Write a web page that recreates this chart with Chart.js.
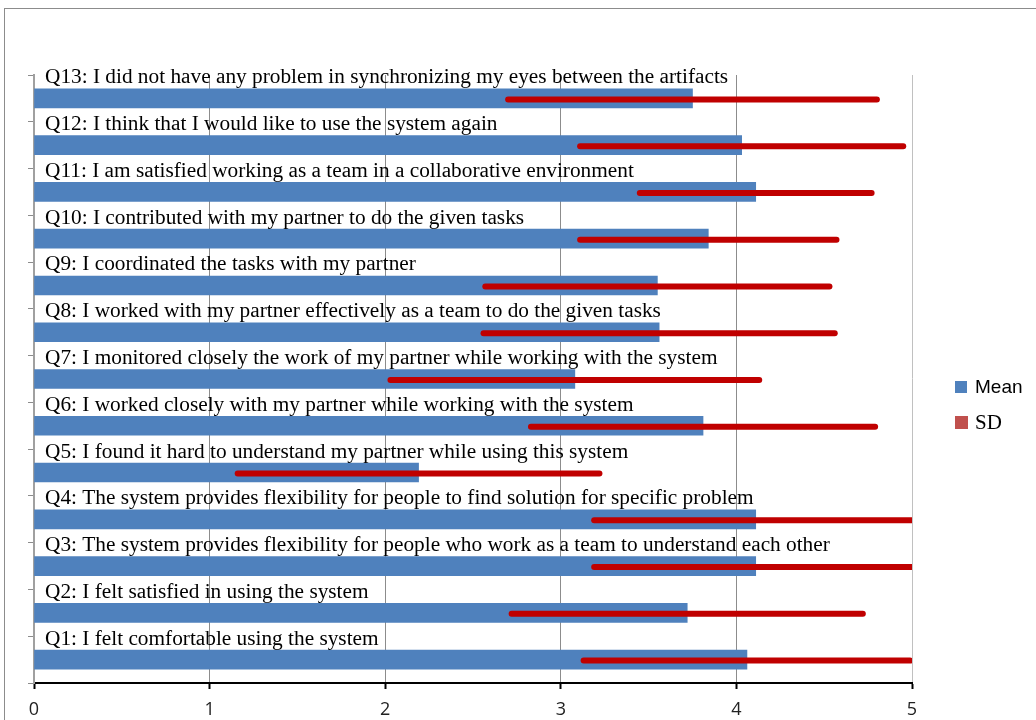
<!DOCTYPE html>
<html>
<head>
<meta charset="utf-8">
<script src="https://cdn.jsdelivr.net/npm/chart.js@4/dist/chart.umd.min.js"></script>
<style>
  html, body { margin: 0; padding: 0; background: #fff; overflow: hidden; }
  #wrap { position: relative; width: 1036px; height: 720px; }
  #frame { position: absolute; left: 4px; top: 8px; width: 1100px; height: 800px; border: 1px solid #8c8c8c; }
  canvas { position: absolute; left: 0; top: 0; }
</style>
</head>
<body>
<div id="wrap">
  <div id="frame"></div>
  <canvas id="chart" width="1036" height="720"></canvas>
</div>
<script>
// Preguntas (de arriba hacia abajo)
const questions = [
    'Q13: I did not have any problem in synchronizing my eyes between the artifacts',
    'Q12: I think that I would like to use the system again',
    'Q11: I am satisfied working as a team in a collaborative environment',
    'Q10: I contributed with my partner to do the given tasks',
    'Q9: I coordinated the tasks with my partner',
    'Q8: I worked with my partner effectively as a team to do the given tasks',
    'Q7: I monitored closely the work of my partner while working with the system',
    'Q6: I worked closely with my partner while working with the system',
    'Q5: I found it hard to understand my partner while using this system',
    'Q4: The system provides flexibility for people to find solution for specific problem',
    'Q3: The system provides flexibility for people who work as a team to understand each other',
    'Q2: I felt satisfied in using the system',
    'Q1: I felt comfortable using the system'
];
const meanValues = [3.75, 4.03, 4.11, 3.84, 3.55, 3.56, 3.08, 3.81, 2.19, 4.11, 4.11, 3.72, 4.06];
const sdValues   = [1.05, 0.92, 0.66, 0.73, 0.98, 1.00, 1.05, 0.98, 1.03, 0.92, 0.92, 1.00, 0.93];
const xTicks = [0, 1, 2, 3, 4, 5];

const blue = '#4F81BD';
const red = '#C00000';

// Barras de error (media ± SD) y etiquetas de texto sobre cada barra
const overlayPlugin = {
    id: 'overlay',
    afterDatasetsDraw(chart) {
        const ctx = chart.ctx;
        const xs = chart.scales.x;
        const area = chart.chartArea;
        const meta = chart.getDatasetMeta(0);
        ctx.save();
        ctx.beginPath();
        ctx.rect(area.left, area.top - 10, area.right - area.left, area.bottom - area.top + 10);
        ctx.clip();
        ctx.strokeStyle = red;
        ctx.lineWidth = 6;
        ctx.lineCap = 'round';
        meta.data.forEach((bar, i) => {
            const x1 = xs.getPixelForValue(meanValues[i] - sdValues[i]);
            const x2 = xs.getPixelForValue(meanValues[i] + sdValues[i]);
            ctx.beginPath();
            ctx.moveTo(x1, bar.y + 1);
            ctx.lineTo(x2, bar.y + 1);
            ctx.stroke();
        });
        ctx.restore();

        ctx.save();
        ctx.fillStyle = '#000';
        ctx.font = '21.3px "Liberation Serif", "Times New Roman", serif';
        ctx.textBaseline = 'alphabetic';
        ctx.textAlign = 'left';
        meta.data.forEach((bar, i) => {
            ctx.fillText(questions[i], area.left + 11, bar.y - 15);
        });
        ctx.restore();
    },
    afterDraw(chart) {
        // Leyenda a la derecha
        const ctx = chart.ctx;
        ctx.save();
        ctx.textBaseline = 'middle';
        ctx.fillStyle = blue;
        ctx.fillRect(955, 381, 12, 12);
        ctx.fillStyle = '#C0504D';
        ctx.fillRect(955, 416, 13, 13);
        ctx.fillStyle = '#000';
        ctx.font = '19px "Liberation Sans", Arial, sans-serif';
        ctx.fillText('Mean', 975, 388);
        ctx.font = '21px "Liberation Serif", "Times New Roman", serif';
        ctx.fillText('SD', 975, 423);
        ctx.restore();
    }
};

new Chart(document.getElementById('chart'), {
    type: 'bar',
    data: {
        labels: questions,
        datasets: [{
            label: 'Mean',
            data: meanValues,
            backgroundColor: blue,
            barThickness: 19
        }]
    },
    options: {
        indexAxis: 'y',
        responsive: false,
        animation: false,
        layout: { padding: { top: 75, right: 124, left: 0, bottom: 0 } },
        plugins: {
            legend: { display: false },
            tooltip: { enabled: false }
        },
        scales: {
            x: {
                min: 0,
                max: 5,
                afterBuildTicks: s => { s.ticks = xTicks.map(v => ({ value: v })); },
                afterFit: s => { s.height = 37; },
                grid: {
                    color: c => (c.tick && c.tick.value === 5) ? '#c0c0c0' : '#8c8c8c',
                    lineWidth: 1,
                    drawTicks: true,
                    tickLength: 6,
                    tickColor: '#000',
                    tickWidth: 2
                },
                border: { display: true, color: '#000', width: 2 },
                ticks: {
                    color: '#222',
                    padding: 10,
                    font: { family: '"Open Sans", sans-serif', size: 18 }
                }
            },
            y: {
                afterFit: s => { s.width = 34; },
                grid: {
                    drawOnChartArea: false,
                    drawTicks: true,
                    tickLength: 6,
                    color: '#8c8c8c',
                    offset: true
                },
                border: { display: true, color: '#a0a0a0', width: 2 },
                ticks: { display: false }
            }
        }
    },
    plugins: [overlayPlugin]
});
</script>
</body>
</html>
